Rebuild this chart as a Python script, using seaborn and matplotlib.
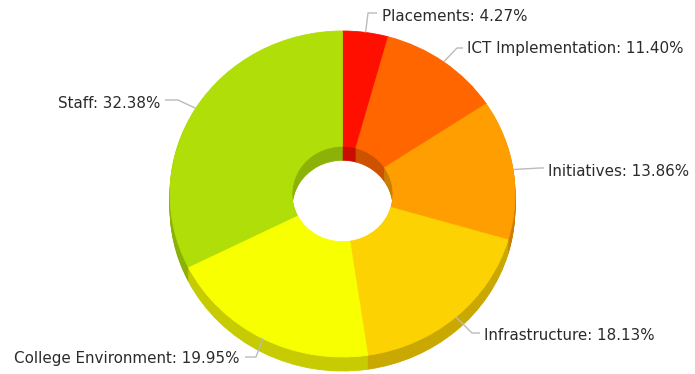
import numpy as np
import matplotlib
matplotlib.use("Agg")
import matplotlib.pyplot as plt
from matplotlib.patches import Wedge
from matplotlib.transforms import Affine2D
import seaborn as sns

# Survey share by area
categories = ["Placements", "ICT Implementation", "Initiatives",
              "Infrastructure", "College Environment", "Staff"]
shares = [4.27, 11.40, 13.86, 18.13, 19.95, 32.38]
slice_colors = ["#FF0F00", "#FF6600", "#FF9E01", "#FCD202", "#F8FF01", "#B0DE09"]

sns.set_theme(style="white")
plt.rcParams["font.family"] = ["DejaVu Sans"]

W, H = 695, 374
fig = plt.figure(figsize=(W / 100, H / 100), dpi=100)
ax = fig.add_axes([0, 0, 1, 1])
ax.set_xlim(0, W)
ax.set_ylim(0, H)
ax.axis("off")

palette = sns.color_palette(slice_colors)
side_palette = [tuple(c * 0.8 for c in col) for col in palette]

cx, cy = 342.5, H - 194.0      # centre of the top face
r_out = 172.5                  # outer radius (horizontal)
r_in = 50.5                    # hole radius
tilt = 0.945                   # vertical squash of the face
depth = 14                     # thickness of the ring


def squash(y0):
    return Affine2D().translate(-cx, -y0).scale(1, tilt).translate(cx, y0) + ax.transData


total = float(sum(shares))
bounds = np.concatenate([[0], np.cumsum(shares)]) / total


def draw_ring(offset, colors):
    y0 = cy - offset
    tr = squash(y0)
    for i, col in enumerate(colors):
        t2 = 90 - 360 * bounds[i]
        t1 = 90 - 360 * bounds[i + 1]
        w = Wedge((cx, y0), r_out, t1, t2, width=r_out - r_in,
                  facecolor=col, edgecolor=col, linewidth=0.6, transform=tr)
        ax.add_patch(w)


# extruded side walls, then the top face
for off in range(depth, 0, -1):
    draw_ring(off, side_palette)
draw_ring(0, palette)

# label layout: elbow point, line end and text anchor (pixel coords, y down)
label_layout = [
    ((368, 13), (377, 13), (382, 16), "left"),
    ((457, 48), (463, 48), (467, 48), "left"),
    ((540, 168), (544, 168), (548, 171), "left"),
    ((472, 333), (480, 333), (484, 335), "left"),
    ((256, 357), (245, 357), (239, 359), "right"),
    ((178, 100), (165, 100), (160, 103), "right"),
]

for i, (name, val) in enumerate(zip(categories, shares)):
    mid = (bounds[i] + bounds[i + 1]) / 2 * 2 * np.pi
    sx = cx + r_out * np.sin(mid)
    sy = cy + r_out * tilt * np.cos(mid)
    (ex, ey), (lx, ly), (tx, ty), ha = label_layout[i]
    ax.plot([sx, ex, lx], [sy, H - ey, H - ly], color="#BBBBBB", lw=1.0,
            solid_capstyle="butt", zorder=1)
    ax.text(tx, H - ty, f"{name}: {val:.2f}%", ha=ha, va="center",
            fontsize=10.9, color="#2B2B2B", zorder=3)

fig.savefig("out.png", dpi=100, facecolor="white")
